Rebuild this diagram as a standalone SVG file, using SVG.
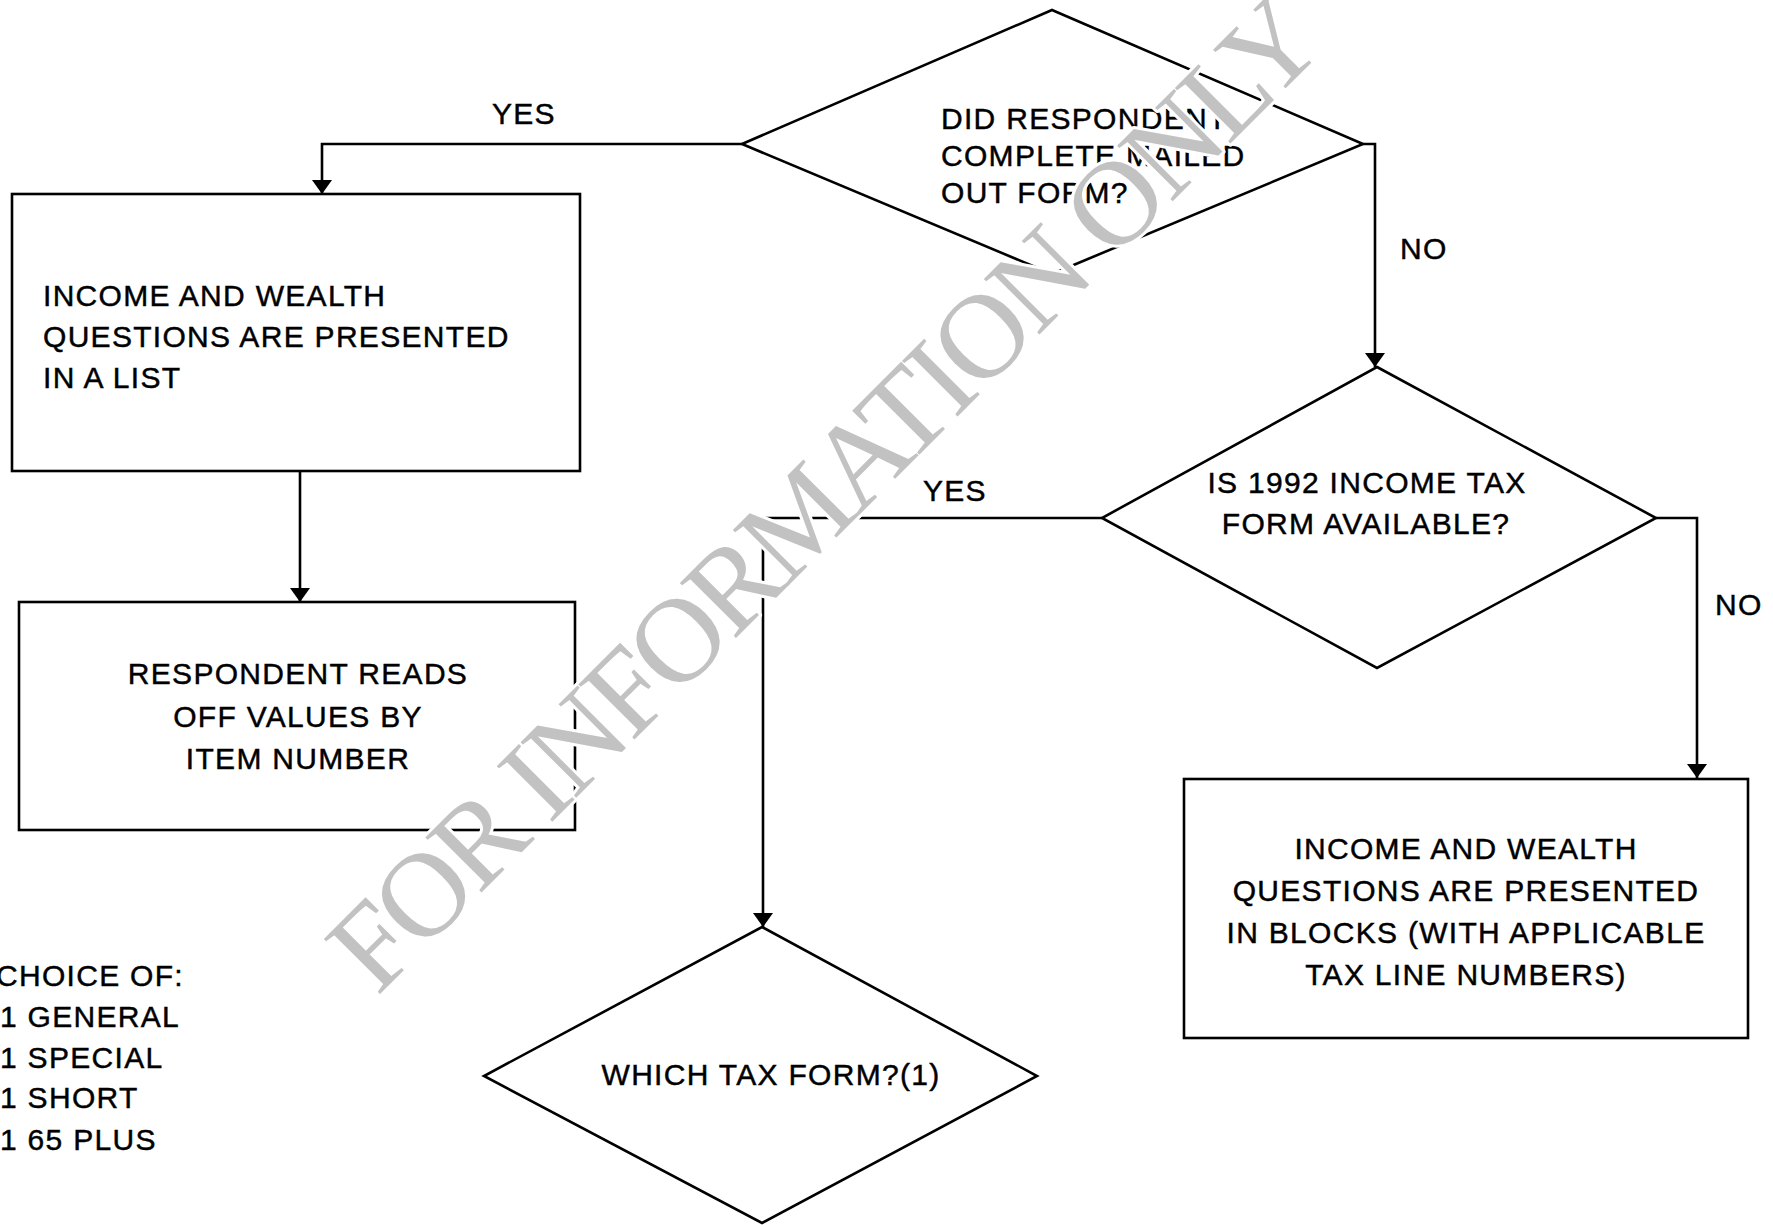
<svg xmlns="http://www.w3.org/2000/svg" width="1773" height="1225" viewBox="0 0 1773 1225">
<style>
.shape{fill:none;stroke:#000;stroke-width:2.6;stroke-linejoin:miter}
.conn{fill:none;stroke:#000;stroke-width:2.6}
.t{font-family:"Liberation Sans",Arial,sans-serif;font-size:30px;letter-spacing:1.3px;fill:#000;stroke:#000;stroke-width:0.45}
.c{text-anchor:middle}
.wm{font-family:"Liberation Serif","Times New Roman",serif;font-size:120px;letter-spacing:-5px;fill:#c2c2c2;stroke:#fff;stroke-width:6;paint-order:stroke;stroke-linejoin:round}
</style>
<defs>
<marker id="arr" viewBox="0 0 14 20" refX="14" refY="10" markerWidth="14" markerHeight="20" markerUnits="userSpaceOnUse" orient="auto">
<path d="M0,0 L14,10 L0,20 z" fill="#000"/>
</marker>
</defs>
<rect width="1773" height="1225" fill="#fff"/>
<g id="connectors">
<path class="conn" d="M742,144 H322 V194" marker-end="url(#arr)"/>
<path class="conn" d="M300,471 V602" marker-end="url(#arr)"/>
<path class="conn" d="M1363,144 H1375 V367" marker-end="url(#arr)"/>
<path class="conn" d="M1102,518 H763 V927" marker-end="url(#arr)"/>
<path class="conn" d="M1656,518 H1697 V778" marker-end="url(#arr)"/>
<text class="t" x="492" y="124">YES</text>
<text class="t" x="1400" y="259">NO</text>
<text class="t" x="923" y="501">YES</text>
<text class="t" x="1715" y="615">NO</text>
</g>
<g id="q1">
<polygon class="shape" points="1052,10 1363,144 1052,274 742,144"/>
<text class="t" x="941" y="129">DID RESPONDENT</text>
<text class="t" x="941" y="166">COMPLETE MAILED</text>
<text class="t" x="941" y="203">OUT FORM?</text>
</g>
<g id="box-list">
<rect class="shape" x="12" y="194" width="568" height="277"/>
<text class="t" x="43" y="306">INCOME AND WEALTH</text>
<text class="t" x="43" y="347">QUESTIONS ARE PRESENTED</text>
<text class="t" x="43" y="388">IN A LIST</text>
</g>
<g id="box-reads">
<rect class="shape" x="19" y="602" width="556" height="228"/>
<text class="t c" x="298" y="684">RESPONDENT READS</text>
<text class="t c" x="298" y="727">OFF VALUES BY</text>
<text class="t c" x="298" y="769">ITEM NUMBER</text>
</g>
<g id="q2">
<polygon class="shape" points="1377,367 1656,518 1377,668 1102,518"/>
<text class="t c" x="1367" y="493">IS 1992 INCOME TAX</text>
<text class="t c" x="1366" y="534">FORM AVAILABLE?</text>
</g>
<g id="box-blocks">
<rect class="shape" x="1184" y="779" width="564" height="259"/>
<text class="t c" x="1466" y="859">INCOME AND WEALTH</text>
<text class="t c" x="1466" y="901">QUESTIONS ARE PRESENTED</text>
<text class="t c" x="1466" y="943">IN BLOCKS (WITH APPLICABLE</text>
<text class="t c" x="1466" y="985">TAX LINE NUMBERS)</text>
</g>
<g id="q3">
<polygon class="shape" points="762,927 1037,1076 762,1223 484,1076"/>
<text class="t c" x="771" y="1085">WHICH TAX FORM?(1)</text>
</g>
<g id="choices">
<text class="t" x="-4" y="986">CHOICE OF:</text>
<text class="t" x="0" y="1027">1 GENERAL</text>
<text class="t" x="0" y="1068">1 SPECIAL</text>
<text class="t" x="0" y="1108">1 SHORT</text>
<text class="t" x="0" y="1150">1 65 PLUS</text>
</g>
<text class="wm" transform="translate(377,997) rotate(-45)">FOR INFORMATION ONLY</text>
</svg>
